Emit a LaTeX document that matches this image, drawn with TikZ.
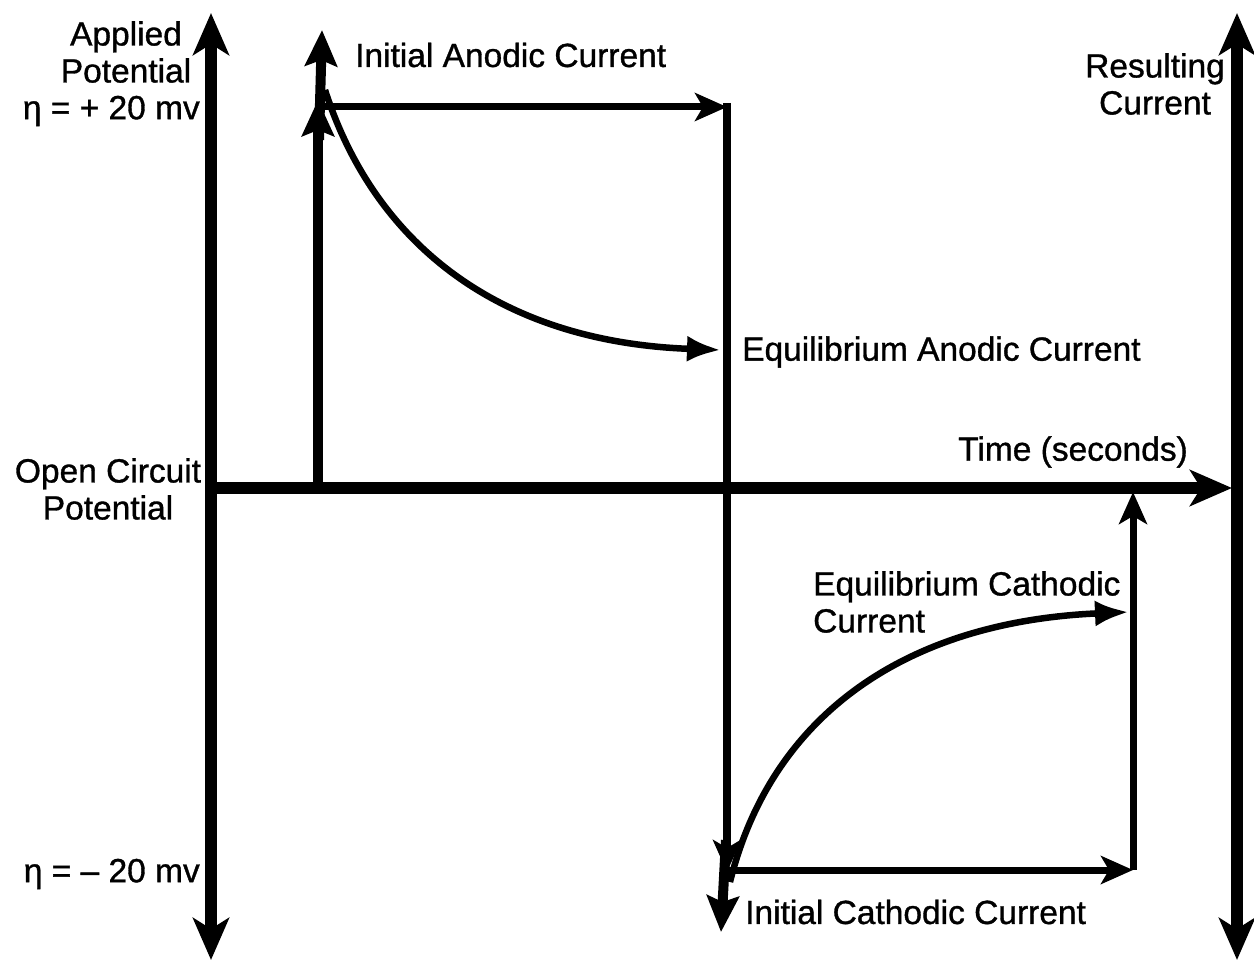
\documentclass[tikz,border=0pt]{standalone}
\usepackage{fontspec}
\setmainfont{Liberation Sans}
\newfontface\lblfont[FakeBold=1]{Liberation Sans}
\usetikzlibrary{arrows.meta}
\tikzset{
  lbl/.style={inner sep=0pt, font=\lblfont\fontsize{33.5}{37}\selectfont},
  bigtip/.tip={Stealth[length=42pt,width=36pt,inset=11pt]},
  midtip/.tip={Stealth[length=32pt,width=28pt,inset=8pt]},
  spiketip/.tip={Stealth[length=36pt,width=32pt,inset=6pt]},
  curvetip/.tip={Latex[length=34pt,width=26pt]},
  axisline/.style={line width=12pt, bigtip-bigtip},
  potline/.style={line width=7pt, -midtip},
  spikeline/.style={line width=10pt, -spiketip},
  currline/.style={line width=6.5pt, -curvetip},
}
\begin{document}
\begin{tikzpicture}[x=1pt,y=-1pt]
  \useasboundingbox (0,0) rectangle (1254,963);
  % axes
  \coordinate (vtop) at (211,13);
  \coordinate (vbot) at (211,960);
  \coordinate (orig) at (205,488);
  \coordinate (tend) at (1232,488);
  \coordinate (rtop) at (1237,13);
  \coordinate (rbot) at (1237,960);
  \draw[axisline] (vbot) -- (vtop);
  \draw[axisline] (rbot) -- (rtop);
  \draw[line width=12pt, -bigtip] (orig) -- (tend);
  % potential steps
  \coordinate (a0) at (318,488);
  \coordinate (a1) at (318,100);
  \coordinate (a1b) at (319,140);
  \coordinate (apeak) at (322,30);
  \coordinate (a2) at (727,107);
  \coordinate (c0) at (727,103);
  \coordinate (c1) at (727,872);
  \coordinate (c1b) at (726,840);
  \coordinate (cpeak) at (721,932);
  \coordinate (c2) at (1133,870);
  \coordinate (c3) at (1133,492);
  \draw[spikeline] (a0) -- (a1);
  \draw[potline] (a1 |- a2) -- (a2);
  \draw[potline, line width=8pt] (c0) -- (c1);
  \draw[potline] (c1 |- c2) -- (c2);
  \draw[potline] (c2) -- (c3);
  % initial currents
  \draw[spikeline] (a1b) -- (apeak);
  \draw[spikeline] (c1b) -- (cpeak);
  % decaying currents
  \coordinate (astart) at (325,90);
  \coordinate (aeq) at (721,350);
  \coordinate (cstart) at (730,882);
  \coordinate (ceq) at (1129,612);
  \draw[currline] (astart) .. controls (375,245) and (500,342) .. (aeq);
  \draw[currline] (cstart) .. controls (770,720) and (900,622) .. (ceq);
  % labels
  \node[lbl, align=center] (applied) at (126,52) {Applied\\Potential};
  \node[lbl, anchor=east] (plus) at (200,111) {η = + 20 mv};
  \node[lbl, align=center] (ocp) at (108,489) {Open Circuit\\Potential};
  \node[lbl, anchor=east] (minus) at (200,874) {η = – 20 mv};
  \node[lbl, anchor=west] (ianode) at (355,55) {Initial Anodic Current};
  \node[lbl, anchor=west] (eanode) at (742,352) {Equilibrium Anodic Current};
  \node[lbl, anchor=east] (time) at (1188,452) {Time (seconds)};
  \node[lbl, align=center] (result) at (1155,84) {Resulting\\Current};
  \node[lbl, align=left, anchor=west] (ecath) at (813,602) {Equilibrium Cathodic\\Current};
  \node[lbl, anchor=west] (icath) at (745,912) {Initial Cathodic Current};
\end{tikzpicture}
\end{document}
